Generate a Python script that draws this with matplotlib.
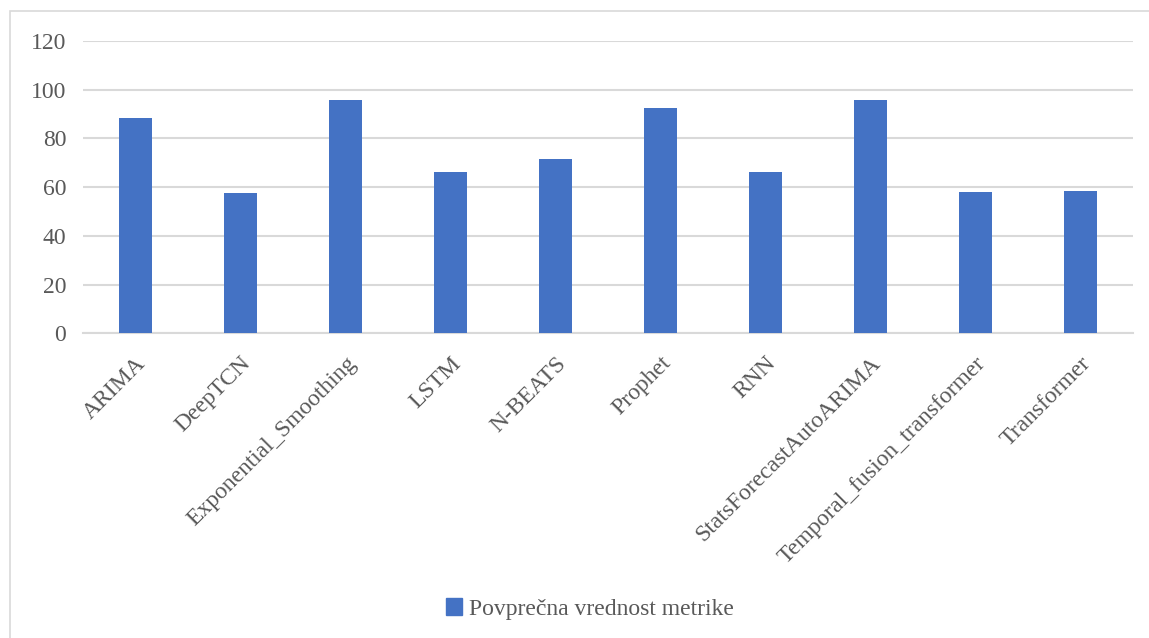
import matplotlib
matplotlib.use('Agg')
import matplotlib.pyplot as plt
from matplotlib.patches import Rectangle, Patch

# average metric value per forecasting model
models = ['ARIMA', 'DeepTCN', 'Exponential_Smoothing', 'LSTM', 'N-BEATS',
          'Prophet', 'RNN', 'StatsForecastAutoARIMA',
          'Temporal_fusion_transformer', 'Transformer']
values = [88.5, 57.5, 95.8, 66.1, 71.4, 92.6, 66.2, 95.8, 58.0, 58.4]
yticks = [0, 20, 40, 60, 80, 100, 120]
series_name = 'Povprečna vrednost metrike'

plt.rcParams['font.family'] = ['Liberation Serif', 'DejaVu Serif']
text_color = '#595959'
grid_color = '#d9d9d9'
bar_color = '#4472C4'

W, H = 1149, 638
fig = plt.figure(figsize=(W / 100, H / 100), dpi=100)

# light frame around the chart area
fig.patches.append(Rectangle((10 / W, -0.1), 1.2, 1 - 11 / H + 0.1,
                             transform=fig.transFigure, fill=False,
                             edgecolor=grid_color, linewidth=1.2))

ax = fig.add_axes([83 / W, 1 - 333.3 / H, (1133 - 83) / W, (333.3 - 41) / H])
x = range(len(models))
ax.bar(x, values, width=0.31, color=bar_color, zorder=3)

ax.set_xlim(-0.5, len(models) - 0.5)
ax.set_ylim(0, 120)
ax.set_yticks(yticks)
ax.set_yticklabels([str(t) for t in yticks], fontsize=17, color=text_color)
ax.yaxis.grid(True, color=grid_color, linewidth=1.5, zorder=0)
ax.set_axisbelow(True)
ax.tick_params(axis='both', length=0)
ax.tick_params(axis='y', pad=12)
for side in ['left', 'right', 'top']:
    ax.spines[side].set_visible(False)
ax.spines['bottom'].set_color(grid_color)
ax.spines['bottom'].set_linewidth(1.5)

ax.set_xticks(list(x))
ax.set_xticklabels(models, rotation=45, ha='right', va='top',
                   rotation_mode='anchor', fontsize=17, color=text_color)
ax.tick_params(axis='x', pad=14)

fig.legend(handles=[Patch(color=bar_color, label=series_name)],
           loc='center', bbox_to_anchor=(590 / W, 1 - 609 / H),
           frameon=False, fontsize=17, labelcolor=text_color,
           handlelength=0.7, handleheight=0.7, handletextpad=0.3)

fig.savefig('out.png', dpi=100, facecolor='white')
